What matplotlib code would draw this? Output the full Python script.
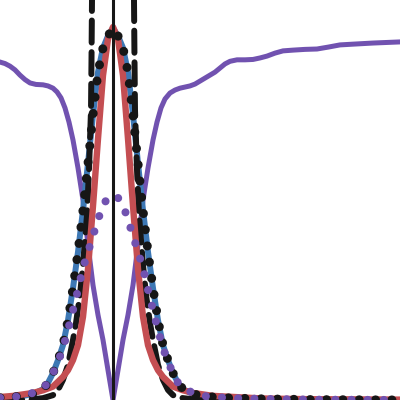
import numpy as np
import matplotlib.pyplot as plt

# offsets from the centre line (arbitrary units, /50) and curve heights

# blue line (and the black dotted line that sits on it)
blue_x = np.array([-113, -100, -90, -80, -70, -65, -60, -55, -50, -45, -40, -35, -30, -25, -20, -15, -10, -5, 0,
                   5, 10, 15, 20, 25, 30, 35, 40, 45, 50, 55, 60, 65, 70, 80, 90, 100, 120, 150, 200, 287]) / 50
blue_y = [0.006, 0.008, 0.011, 0.016, 0.029, 0.046, 0.072, 0.107, 0.147, 0.214, 0.300, 0.397, 0.509, 0.635, 0.764, 0.879, 0.944, 0.976, 0.997,
          0.976, 0.944, 0.879, 0.764, 0.635, 0.509, 0.397, 0.300, 0.214, 0.147, 0.107, 0.072, 0.046, 0.029, 0.016, 0.011, 0.008, 0.005, 0.003, 0.001, 0.0]

# red line
red_x = np.array([-113, -100, -80, -70, -60, -50, -45, -40, -35, -30, -25, -20, -15, -10, -5, 0,
                  5, 10, 15, 20, 25, 30, 35, 40, 45, 50, 60, 70, 80, 100, 150, 200, 287]) / 50
red_y = [0.008, 0.011, 0.019, 0.026, 0.036, 0.062, 0.080, 0.107, 0.147, 0.223, 0.352, 0.520, 0.700, 0.870, 0.968, 1.0,
         0.968, 0.870, 0.700, 0.520, 0.352, 0.223, 0.147, 0.107, 0.080, 0.062, 0.036, 0.026, 0.019, 0.011, 0.004, 0.002, 0.001]

# black dashed line (its peak is off the top)
dash_x = np.array([-113, -80, -70, -60, -55, -50, -45, -40, -37, -33, -30, -28, -26, -24, -22, -21.5, -21, -19, -15, -10, 0,
                   10, 15, 19, 21, 21.5, 22, 24, 26, 28, 30, 33, 37, 40, 45, 50, 55, 60, 70, 80, 287]) / 50
dash_y = [0.0, 0.002, 0.005, 0.013, 0.027, 0.054, 0.094, 0.161, 0.206, 0.282, 0.362, 0.429, 0.496, 0.617, 0.777, 0.912, 1.072, 1.3, 1.8, 2.2, 2.6,
          2.2, 1.8, 1.3, 1.072, 0.912, 0.777, 0.617, 0.496, 0.429, 0.362, 0.282, 0.206, 0.161, 0.094, 0.054, 0.027, 0.013, 0.005, 0.002, 0.0]

# purple dotted line
pdot_x = np.array([-113, -100, -90, -80, -70, -65, -60, -55, -50, -45, -40, -35, -30, -25, -20, -15, -10, -5, 0,
                   5, 10, 15, 20, 25, 30, 35, 40, 45, 50, 55, 60, 65, 70, 80, 90, 100, 120, 150, 200, 287]) / 50
pdot_y = [0.006, 0.008, 0.011, 0.019, 0.032, 0.046, 0.072, 0.102, 0.139, 0.188, 0.241, 0.295, 0.354, 0.397, 0.440, 0.483, 0.523, 0.542, 0.550,
          0.542, 0.523, 0.483, 0.440, 0.397, 0.354, 0.295, 0.241, 0.188, 0.139, 0.102, 0.072, 0.046, 0.032, 0.019, 0.011, 0.008, 0.005, 0.003, 0.001, 0.0]

# purple solid line
psol_x = np.array([-113, -108, -103, -98, -93, -88, -83, -77, -70, -65, -60, -56, -52, -48, -44, -40, -35, -30, -25, -20, -15, -10, -5, 0,
                   5, 10, 15, 20, 25, 30, 35, 40, 44, 48, 52, 57, 62, 67, 72, 77, 82, 87, 92, 97, 102, 107, 112, 117, 124, 132,
                   140, 147, 154, 162, 170, 180, 192, 204, 215, 227, 240, 260, 287]) / 50
psol_y = [0.906, 0.902, 0.895, 0.885, 0.871, 0.859, 0.850, 0.846, 0.845, 0.842, 0.836, 0.826, 0.810, 0.783, 0.745, 0.697, 0.622, 0.536, 0.416, 0.308, 0.228, 0.161, 0.080, 0.0,
          0.080, 0.161, 0.228, 0.308, 0.416, 0.536, 0.622, 0.697, 0.745, 0.783, 0.807, 0.823, 0.831, 0.836, 0.839, 0.842, 0.847, 0.855, 0.863, 0.871, 0.879, 0.890, 0.901, 0.908, 0.912, 0.912,
          0.913, 0.917, 0.922, 0.930, 0.936, 0.938, 0.940, 0.941, 0.946, 0.952, 0.954, 0.957, 0.960]

purple = '#7152b0'
blue = '#3d78b5'
red = '#c44e52'
black = '#161616'

fig = plt.figure(figsize=(4, 4), dpi=100)
ax = fig.add_axes([0, 0, 1, 1])

ax.plot(psol_x, psol_y, color=purple, lw=3.6, zorder=1)
ax.plot(blue_x, blue_y, color=blue, lw=4.3, zorder=2)
ax.plot(dash_x, dash_y, color=black, lw=4.3, ls='--', dash_capstyle='round', zorder=3)
ax.plot(red_x, red_y, color=red, lw=4.6, zorder=4)
ax.plot(blue_x, blue_y, color=black, lw=6.5, dashes=(0.01, 1.8), dash_capstyle='round', zorder=5)
ax.plot(pdot_x, pdot_y, color=purple, lw=5.8, dashes=(0.01, 2.0), dash_capstyle='round', zorder=6)
ax.axvline(0, color=black, lw=2.2, zorder=7)

ax.set_xlim(-113 / 50, 287 / 50)
ax.set_ylim(0, 400 / 373)
ax.axis('off')

fig.savefig('out.png', dpi=100)
